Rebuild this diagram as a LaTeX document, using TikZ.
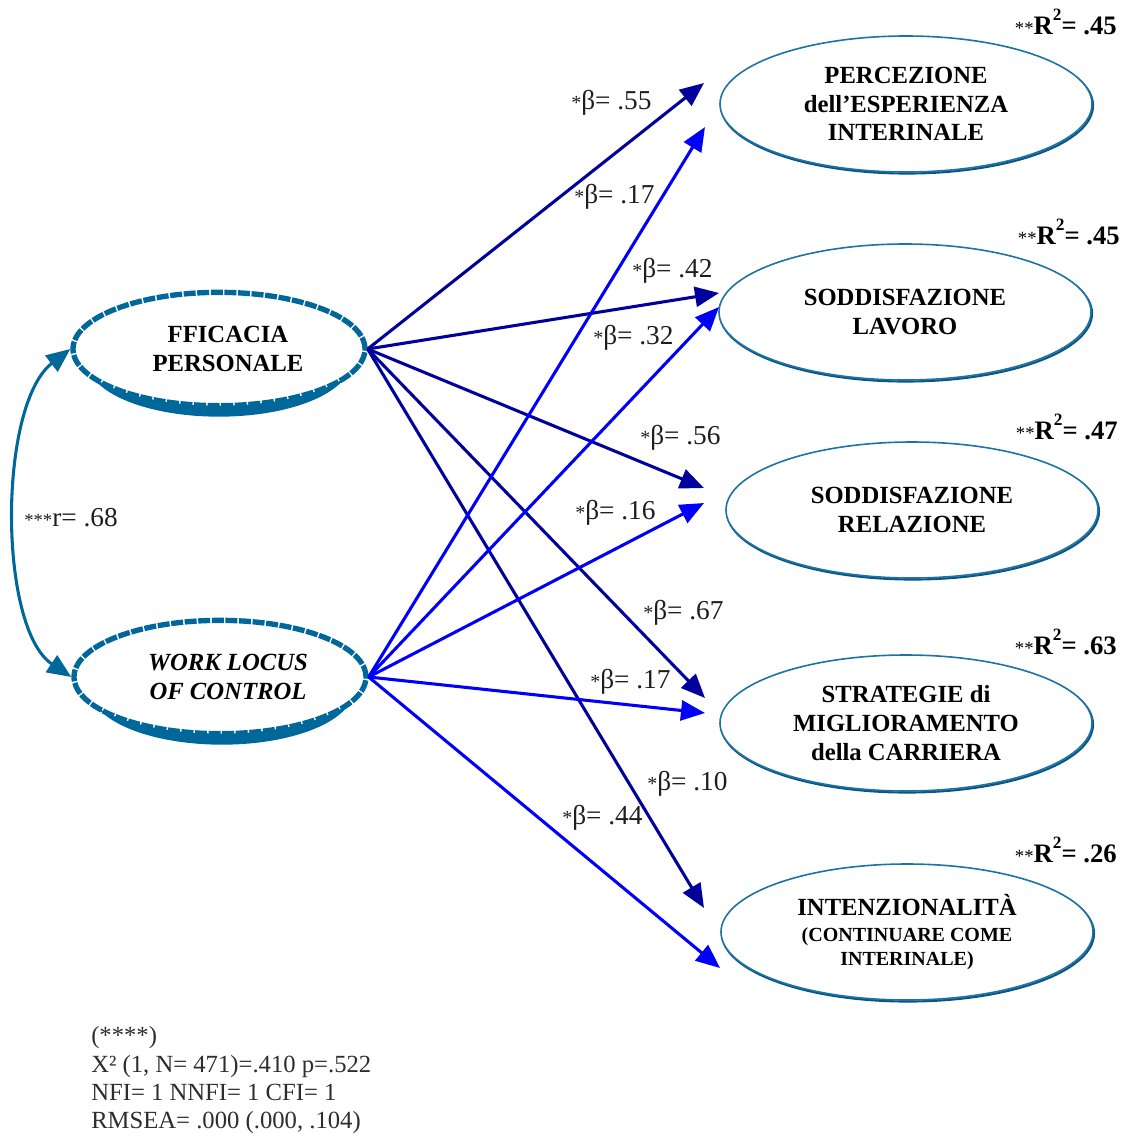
\documentclass[tikz,border=0pt]{standalone}
\usepackage{fontspec}
\setmainfont{Liberation Serif}
\usetikzlibrary{arrows.meta,shapes.geometric}
\definecolor{teal1}{RGB}{0,103,155}
\definecolor{tealdark}{RGB}{10,85,130}
\definecolor{tealmid}{RGB}{30,115,165}
\definecolor{navy1}{RGB}{0,0,155}
\definecolor{blue1}{RGB}{0,0,250}
\definecolor{txt}{RGB}{30,30,30}
\definecolor{fittxt}{RGB}{45,45,45}
\begin{document}
\begin{tikzpicture}[x=0.75pt,y=-0.75pt,
  latshadow/.style={ellipse, fill=teal1, inner sep=0pt, minimum width=197pt, minimum height=82pt},
  lat/.style={ellipse, draw=teal1, line width=4pt, dash pattern=on 9pt off 1.2pt, fill=white, inner sep=0pt, minimum width=219pt, minimum height=85pt},
  lattext/.style={inner sep=0pt, font=\fontsize{18.5}{21.5}\selectfont\bfseries, align=center},
  obsshadow/.style={ellipse, draw=tealdark, line width=1.6pt, inner sep=0pt, minimum width=279pt, minimum height=102pt},
  obs/.style={ellipse, draw=tealmid, line width=1.2pt, fill=white, inner sep=0pt, minimum width=279pt, minimum height=102pt, font=\fontsize{18.5}{21.5}\selectfont\bfseries, align=center},
  pathA/.style={-{Triangle[length=18pt,width=15pt]}, line width=2.3pt, draw=navy1},
  pathB/.style={-{Triangle[length=18pt,width=15pt]}, line width=2.3pt, draw=blue1},
  corr/.style={{Triangle[length=18pt,width=15pt]}-{Triangle[length=18pt,width=15pt]}, line width=2.3pt, draw=teal1},
  coef/.style={font=\fontsize{20.5}{22}\selectfont, text=txt, inner sep=0pt, anchor=west},
  rsq/.style={anchor=east, inner sep=0pt, font=\fontsize{20}{22}\selectfont\bfseries},
  fit/.style={anchor=base west, inner sep=0pt, font=\fontsize{18.5}{21}\selectfont, text=fittxt},
]
\useasboundingbox (0,0) rectangle (1124,1135);

% latent ellipses
\node[latshadow] (fpS) at (219,362) {};
\node[lat] (fp) at (219,349) {};
\node[lattext] (fpT) at (228,349) {FFICACIA\\PERSONALE};
\node[latshadow] (wlS) at (222,690) {};
\node[lat] (wl) at (220,677) {};
\node[lattext] (wlT) at (228,677) {\itshape WORK LOCUS\\\itshape OF CONTROL};

% observed ellipses
\node[obsshadow] (peS) at (907,105.5) {};
\node[obs] (pe) at (906,104) {PERCEZIONE\\dell’ESPERIENZA\\INTERINALE};
\node[obsshadow] (slS) at (906,313.5) {};
\node[obs] (sl) at (905,312) {SODDISFAZIONE\\LAVORO};
\node[obsshadow] (srS) at (913,511.5) {};
\node[obs] (sr) at (912,510) {SODDISFAZIONE\\RELAZIONE};
\node[obsshadow] (smS) at (907,724.5) {};
\node[obs] (sm) at (906,723) {STRATEGIE di\\MIGLIORAMENTO\\della CARRIERA};
\node[obsshadow] (inS) at (908,933.5) {};
\node[obs] (in) at (907,932) {\raisebox{-3pt}{INTENZIONALITÀ}\\[-2pt]\fontsize{15}{16.5}\selectfont\raisebox{-3pt}{(CONTINUARE COME}\\[-3pt]\fontsize{15}{16.5}\selectfont\raisebox{-3pt}{INTERINALE)}};

% arrow tips
\coordinate (a1) at (704,83);
\coordinate (a2) at (719,293);
\coordinate (a3) at (704,488);
\coordinate (a4) at (705,698);
\coordinate (a5) at (704,908);
\coordinate (b1) at (705,127);
\coordinate (b2) at (719,307);
\coordinate (b3) at (704,503);
\coordinate (b4) at (705,713);
\coordinate (b5) at (720,968);

\draw[pathA] (fp.east) -- (a1);
\draw[pathA] (fp.east) -- (a2);
\draw[pathA] (fp.east) -- (a3);
\draw[pathA] (fp.east) -- (a4);
\draw[pathA] (fp.east) -- (a5);
\draw[pathB] (wl.east) -- (b1);
\draw[pathB] (wl.east) -- (b2);
\draw[pathB] (wl.east) -- (b3);
\draw[pathB] (wl.east) -- (b4);
\draw[pathB] (wl.east) -- (b5);

% correlation
\draw[corr] (fp.west) .. controls (-2,405) and (-2,628) .. (wl.west);
\node[coef, anchor=west] (r) at (24,518) {{\fontsize{14}{16}\selectfont ***}r= .68};

% coefficients
\node[coef] (c1) at (571,103) {{\fontsize{15}{16}\selectfont *}β= .55};
\node[coef] (c2) at (574,197) {{\fontsize{15}{16}\selectfont *}β= .17};
\node[coef] (c3) at (632,271) {{\fontsize{15}{16}\selectfont *}β= .42};
\node[coef] (c4) at (593,338) {{\fontsize{15}{16}\selectfont *}β= .32};
\node[coef] (c5) at (640,438) {{\fontsize{15}{16}\selectfont *}β= .56};
\node[coef] (c6) at (575,513) {{\fontsize{15}{16}\selectfont *}β= .16};
\node[coef] (c7) at (643,613) {{\fontsize{15}{16}\selectfont *}β= .67};
\node[coef] (c8) at (590,682) {{\fontsize{15}{16}\selectfont *}β= .17};
\node[coef] (c9) at (647,784) {{\fontsize{15}{16}\selectfont *}β= .10};
\node[coef] (c10) at (562,818) {{\fontsize{15}{16}\selectfont *}β= .44};

% R squared
\node[rsq] (r1) at (1117,22) {{\mdseries\fontsize{14}{16}\selectfont **}R\raisebox{0.55em}{\fontsize{13}{14}\selectfont 2}= .45};
\node[rsq] (r2) at (1120,232) {{\mdseries\fontsize{14}{16}\selectfont **}R\raisebox{0.55em}{\fontsize{13}{14}\selectfont 2}= .45};
\node[rsq] (r3) at (1118,427) {{\mdseries\fontsize{14}{16}\selectfont **}R\raisebox{0.55em}{\fontsize{13}{14}\selectfont 2}= .47};
\node[rsq] (r4) at (1117,642) {{\mdseries\fontsize{14}{16}\selectfont **}R\raisebox{0.55em}{\fontsize{13}{14}\selectfont 2}= .63};
\node[rsq] (r5) at (1117,850) {{\mdseries\fontsize{14}{16}\selectfont **}R\raisebox{0.55em}{\fontsize{13}{14}\selectfont 2}= .26};

% fit indices
\node[fit] (f1) at (91,1043) {(****)};
\node[fit] (f2) at (91,1072) {X² (1, N= 471)=.410 p=.522};
\node[fit] (f3) at (91,1100) {NFI= 1 NNFI= 1 CFI= 1};
\node[fit] (f4) at (91,1128) {RMSEA= .000 (.000, .104)};
\end{tikzpicture}
\end{document}
